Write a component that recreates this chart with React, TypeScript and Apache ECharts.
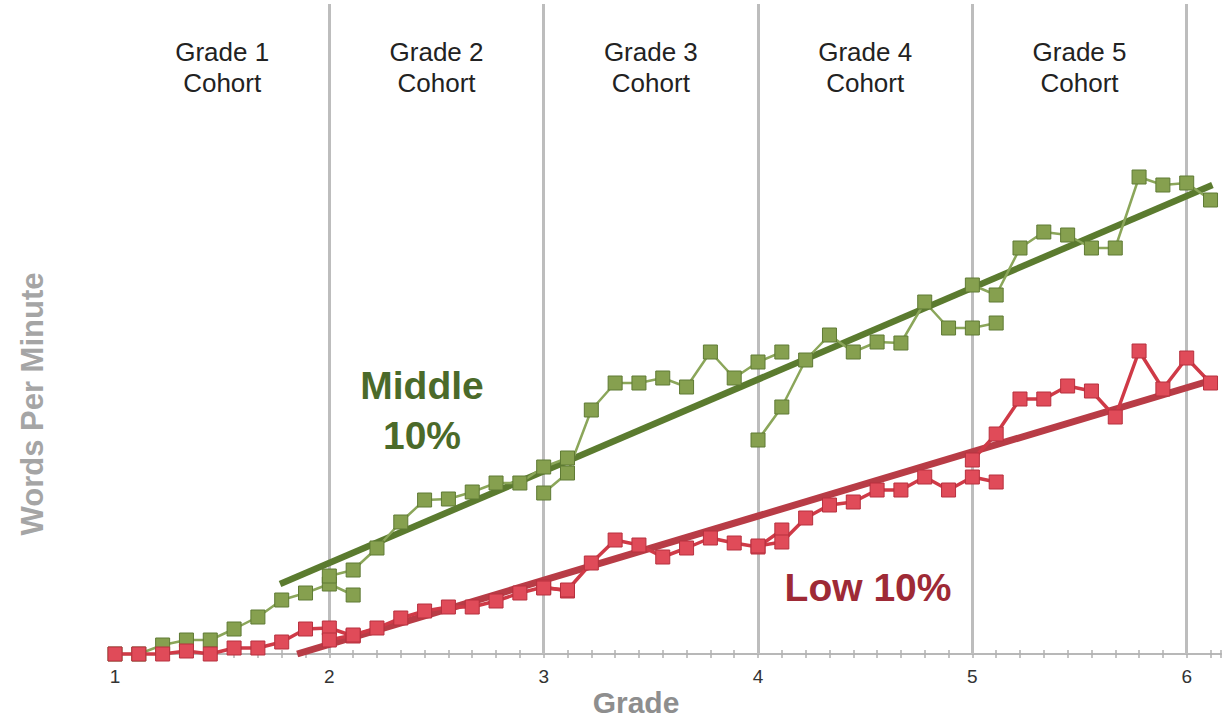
import React, { useEffect, useRef } from "react";
import * as echarts from "echarts";

// ---- data ----
const cohortStartGrades = [1, 2, 3, 4, 5];
const cohortLabels = ["Grade 1\nCohort", "Grade 2\nCohort", "Grade 3\nCohort", "Grade 4\nCohort", "Grade 5\nCohort"];
const gradeLines = [2, 3, 4, 5, 6];
const monthsPerGrade = 9;

// Middle 10% words per minute, one list per cohort (monthly, start of grade through first month of next)
const middleG1 = [0, 0, 1.8, 2.8, 2.8, 5.0, 7.4, 10.8, 12.2, 14.0, 11.8];
const middleG2 = [15.6, 16.8, 21.2, 26.4, 30.8, 31.0, 32.4, 34.2, 34.2, 37.4, 39.2];
const middleG3 = [32.2, 36.2, 48.8, 54.2, 54.2, 55.2, 53.4, 60.4, 55.2, 58.4, 60.4];
const middleG4 = [42.8, 49.4, 58.8, 63.8, 60.4, 62.4, 62.2, 70.4, 65.2, 65.2, 66.2];
const middleG5 = [73.8, 71.8, 81.2, 84.4, 83.8, 81.2, 81.2, 95.4, 93.8, 94.2, 90.8];

// Low 10%
const lowG1 = [0, 0, 0, 0.6, 0, 1.2, 1.2, 2.4, 5.0, 5.2, 3.6];
const lowG2 = [2.8, 3.8, 5.2, 7.2, 8.6, 9.4, 9.4, 10.6, 12.2, 13.4, 12.6];
const lowG3 = [13.2, 12.8, 18.2, 22.8, 21.8, 19.4, 21.2, 23.2, 22.2, 21.4, 24.8];
const lowG4 = [21.6, 22.4, 27.2, 29.8, 30.4, 32.8, 32.8, 35.4, 32.8, 35.4, 34.4];
const lowG5 = [38.8, 44.0, 51.0, 51.0, 53.6, 52.6, 47.4, 60.6, 53.0, 59.2, 54.2];

// Trend lines [grade, wpm]
const middleTrend = [[1.77, 14.0], [6.12, 93.8]];
const lowTrend = [[1.85, 0], [6.12, 54.8]];

const middleCohorts = [middleG1, middleG2, middleG3, middleG4, middleG5];
const lowCohorts = [lowG1, lowG2, lowG3, lowG4, lowG5];

const xTickLabels = ["1", "2", "3", "4", "5", "6"];

const SANS = '"Liberation Sans", Arial, sans-serif';

function toPoints(start: number, vals: number[]) {
  return vals.map((v, i) => [start + i / monthsPerGrade, v]);
}

export default function App() {
  const ref = useRef<HTMLDivElement>(null);
  useEffect(() => {
    if (!ref.current) return;
    const chart = echarts.init(ref.current, undefined, { renderer: "svg" });

    const greenLine = "#8ba65a";
    const greenFill = "#86a04f";
    const greenBorder = "#5f7a34";
    const redLine = "#cf3a47";
    const redFill = "#e04b59";
    const redBorder = "#b7303e";

    const cohortSeries = (sets: number[][], kind: "mid" | "low") =>
      sets.map((vals, k) => ({
        type: "line",
        name: (kind === "mid" ? "Middle 10% " : "Low 10% ") + cohortLabels[k].replace("\n", " "),
        data: toPoints(cohortStartGrades[k], vals),
        xAxisIndex: 0,
        yAxisIndex: 0,
        symbol: "rect",
        symbolSize: 14,
        showSymbol: true,
        clip: false,
        z: kind === "mid" ? 3 : 4,
        lineStyle: { color: kind === "mid" ? greenLine : redLine, width: kind === "mid" ? 2.5 : 3.5 },
        itemStyle: {
          color: kind === "mid" ? greenFill : redFill,
          borderColor: kind === "mid" ? greenBorder : redBorder,
          borderWidth: 1,
          opacity: 1,
        },
        emphasis: { disabled: true },
      }));

    const option: any = {
      animation: false,
      grid: { left: 115, right: 1, top: 4, bottom: 64, containLabel: false },
      xAxis: [
        {
          type: "value",
          min: 1,
          max: 6.16,
          interval: 1,
          position: "bottom",
          axisLine: { show: true, lineStyle: { color: "#b8b8b8", width: 2 } },
          axisTick: { show: false },
          splitLine: { show: false },
          axisLabel: {
            margin: 13,
            fontSize: 19,
            color: "#333",
            fontFamily: SANS,
            formatter: (v: number) => (Number.isInteger(v) ? xTickLabels[v - 1] ?? "" : ""),
          },
        },
        {
          type: "value",
          min: 1,
          max: 6.16,
          interval: 1 / monthsPerGrade,
          position: "bottom",
          axisLine: { show: false },
          axisTick: { show: true, inside: false, length: 4, lineStyle: { color: "#b0b0b0", width: 1.5 } },
          axisLabel: { show: false },
          splitLine: { show: false },
        },
        {
          type: "value",
          min: 1,
          max: 6.16,
          interval: 1 / monthsPerGrade,
          position: "bottom",
          axisLine: { show: false },
          axisTick: { show: true, inside: true, length: 4, lineStyle: { color: "#b0b0b0", width: 1.5 } },
          axisLabel: { show: false },
          splitLine: { show: false },
        },
      ],
      yAxis: {
        type: "value",
        min: 0,
        max: 130,
        show: false,
      },
      series: [
        {
          type: "line",
          name: "Middle 10% trend",
          data: middleTrend,
          symbol: "none",
          z: 2,
          lineStyle: { color: "#5b7b2f", width: 6.5 },
          emphasis: { disabled: true },
          markLine: {
            silent: true,
            symbol: "none",
            label: { show: false },
            lineStyle: { color: "#bdbdbd", width: 3, type: "solid" },
            data: gradeLines.map((g) => ({ xAxis: g })),
            z: 1,
          },
          markArea: {
            silent: true,
            itemStyle: { color: "rgba(0,0,0,0)" },
            label: {
              show: true,
              position: "insideTop",
              offset: [0, 27],
              fontSize: 26,
              lineHeight: 31,
              color: "#222",
              fontFamily: SANS,
              align: "center",
            },
            data: cohortStartGrades.map((g, k) => [
              { xAxis: g, name: cohortLabels[k] },
              { xAxis: g + 1 },
            ]),
          },
        },
        {
          type: "line",
          name: "Low 10% trend",
          data: lowTrend,
          symbol: "none",
          z: 2,
          lineStyle: { color: "#b83c46", width: 7 },
          emphasis: { disabled: true },
        },
        ...cohortSeries(middleCohorts, "mid"),
        ...cohortSeries(lowCohorts, "low"),
      ],
      graphic: [
        {
          type: "text",
          x: 422,
          y: 385,
          style: { text: "Middle", font: "bold 39px " + SANS, fill: "#4b6a2a", align: "center", verticalAlign: "middle" },
        },
        {
          type: "text",
          x: 422,
          y: 435,
          style: { text: "10%", font: "bold 39px " + SANS, fill: "#4b6a2a", align: "center", verticalAlign: "middle" },
        },
        {
          type: "text",
          x: 868,
          y: 587,
          style: { text: "Low 10%", font: "bold 39px " + SANS, fill: "#9e2a36", align: "center", verticalAlign: "middle" },
        },
        {
          type: "text",
          x: 636,
          y: 702,
          style: { text: "Grade", font: "bold 30px " + SANS, fill: "#8e8e8e", align: "center", verticalAlign: "middle" },
        },
        {
          type: "text",
          x: 32,
          y: 404,
          rotation: Math.PI / 2,
          style: { text: "Words Per Minute", font: "bold 31px " + SANS, fill: "#a5a5a5", align: "center", verticalAlign: "middle" },
        },
      ],
    };

    chart.setOption(option);
    return () => chart.dispose();
  }, []);

  return (
    <div
      ref={ref}
      style={{ position: "absolute", left: 0, top: 0, width: 1224, height: 718, background: "#fff" }}
    />
  );
}
